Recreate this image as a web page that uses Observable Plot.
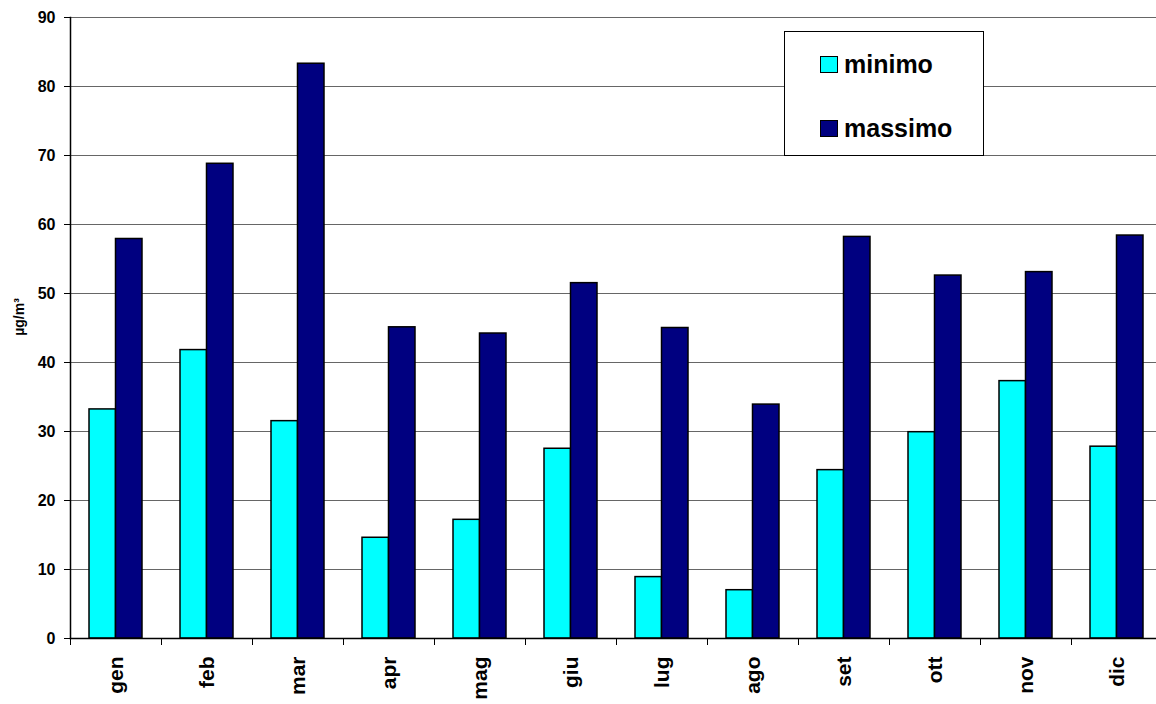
<!DOCTYPE html>
<html>
<head>
<meta charset="utf-8">
<script src="https://cdn.jsdelivr.net/npm/d3@7"></script>
<script src="https://cdn.jsdelivr.net/npm/@observablehq/plot@0.6"></script>
<style>
  html, body { margin: 0; padding: 0; background: #fff; }
  #wrap { position: relative; width: 1156px; height: 704px; overflow: hidden; font-family: "Liberation Sans", Arial, sans-serif; font-weight: bold; }
  #legend { position: absolute; left: 784px; top: 31px; width: 200px; height: 125px; border: 1px solid #000; background: #fff; box-sizing: border-box; }
  .item { position: absolute; left: 35px; display: flex; align-items: center; font-size: 25px; color: #000; }
  .sw { width: 16px; height: 15px; border: 1px solid #000; margin-right: 6px; }
</style>
</head>
<body>
<div id="wrap"></div>
<script>
const months = ["gen", "feb", "mar", "apr", "mag", "giu", "lug", "ago", "set", "ott", "nov", "dic"];
const minimo = [33.2, 41.8, 31.5, 14.6, 17.2, 27.5, 8.9, 7.0, 24.4, 29.9, 37.3, 27.8];
const massimo = [57.9, 68.8, 83.3, 45.1, 44.2, 51.5, 45.0, 33.9, 58.2, 52.6, 53.1, 58.4];
const seriesNames = ["minimo", "massimo"];
const seriesColors = ["#00FFFF", "#000080"];
const yTicks = [0, 10, 20, 30, 40, 50, 60, 70, 80, 90];
const yLabel = "µg/m³";

const minData = months.map((m, i) => ({month: m, value: minimo[i]}));
const maxData = months.map((m, i) => ({month: m, value: massimo[i]}));

const font = "'Liberation Sans', Arial, sans-serif";

const chart = Plot.plot({
  width: 1156,
  height: 704,
  marginLeft: 70,
  marginTop: 17,
  marginBottom: 66,
  marginRight: 0,
  style: {fontFamily: font, fontWeight: "bold", color: "#000", background: "#fff"},
  x: {domain: months, range: [70, 1162], padding: 0},
  y: {domain: [0, 90], ticks: yTicks},
  marks: [
    Plot.gridY(yTicks.filter(t => t > 0), {stroke: "#666", strokeOpacity: 1, strokeWidth: 1.2}),
    Plot.barY(minData, {x: "month", y: "value", fill: seriesColors[0], stroke: "#000", strokeWidth: 1.5, insetLeft: 19, insetRight: 45.5}),
    Plot.barY(maxData, {x: "month", y: "value", fill: seriesColors[1], stroke: "#000", strokeWidth: 1.5, insetLeft: 45.5, insetRight: 19}),
    Plot.frame({anchor: "left", stroke: "#000", strokeWidth: 1.5}),
    Plot.frame({anchor: "bottom", stroke: "#000", strokeWidth: 1.5}),
    Plot.axisY(yTicks, {tickSize: 6, tickPadding: 9, fontSize: 16, fontWeight: "bold", label: null, stroke: "#000"}),
    Plot.axisX({tickSize: 7, text: null, dx: -45.5, label: null, stroke: "#000"}),
    Plot.axisX({tickSize: 0, tickPadding: 18, tickRotate: -90, fontSize: 21, fontWeight: "bold", label: null}),
    Plot.text([yLabel], {frameAnchor: "left", rotate: -90, textAnchor: "middle", dx: -51, dy: -11, text: d => d, fontSize: 14, fontWeight: "bold", fill: "#000"})
  ]
});

const wrap = document.getElementById("wrap");
wrap.appendChild(chart);

const legend = document.createElement("div");
legend.id = "legend";
seriesNames.forEach((name, i) => {
  const item = document.createElement("div");
  item.className = "item";
  item.style.top = (i === 0 ? 18 : 82) + "px";
  const sw = document.createElement("div");
  sw.className = "sw";
  sw.style.background = seriesColors[i];
  item.appendChild(sw);
  const t = document.createElement("span");
  t.textContent = name;
  item.appendChild(t);
  legend.appendChild(item);
});
wrap.appendChild(legend);
</script>
</body>
</html>
